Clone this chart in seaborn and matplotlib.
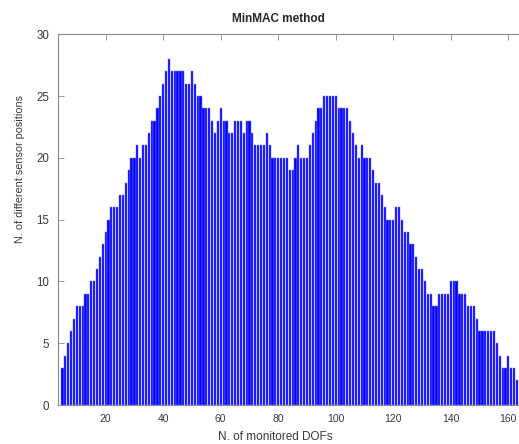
import numpy as np
import pandas as pd
import seaborn as sns
import matplotlib
matplotlib.use("Agg")
import matplotlib.pyplot as plt

# number of monitored DOFs (x) and count of different sensor positions (y)
dofs = list(range(5, 164))
counts = [3, 4, 5, 6, 7, 8, 8, 8, 9, 9,            # 5-14
          10, 10, 11, 12, 13, 14, 15, 16, 16, 16,  # 15-24
          17, 17, 18, 19, 20, 20, 21, 20, 21, 21,  # 25-34
          22, 23, 23, 24, 25, 26, 27, 28, 27, 27,  # 35-44
          27, 27, 27, 26, 26, 27, 26, 25, 25, 24,  # 45-54
          24, 24, 23, 22, 23, 24, 23, 23, 22, 22,  # 55-64
          23, 23, 23, 22, 23, 23, 22, 21, 21, 21,  # 65-74
          21, 22, 21, 20, 20, 20, 20, 20, 20, 19,  # 75-84
          19, 20, 21, 20, 20, 20, 21, 22, 23, 24,  # 85-94
          24, 25, 25, 25, 25, 25, 24, 24, 24, 24,  # 95-104
          23, 22, 21, 20, 21, 20, 20, 20, 19, 18,  # 105-114
          18, 17, 16, 15, 15, 15, 16, 16, 15, 14,  # 115-124
          14, 13, 13, 12, 11, 11, 10, 9, 9, 8,     # 125-134
          8, 9, 9, 9, 9, 10, 10, 10, 9, 9,         # 135-144
          9, 8, 8, 8, 7, 6, 6, 6, 6, 6,            # 145-154
          6, 5, 4, 3, 3, 4, 3, 3, 2]               # 155-163
xticks = [20, 40, 60, 80, 100, 120, 140, 160]
yticks = [0, 5, 10, 15, 20, 25, 30]

df = pd.DataFrame({"dofs": dofs, "count": counts})

sns.set_style("white")
plt.rcParams["font.family"] = ["Liberation Sans", "DejaVu Sans"]

fig = plt.figure(figsize=(5.19, 4.44), dpi=100)
ax = fig.add_axes([0.1127, 0.0878, 0.9, 0.835])

# thin light edges keep the gaps between bars visible, like the original
sns.barplot(data=df, x="dofs", y="count", native_scale=True, color="#0000ff",
            saturation=1, width=0.75, edgecolor="#7a7aff", linewidth=0.35, ax=ax)

ax.set_xlim(3.6, 166)
ax.set_ylim(0, 30)
ax.set_xticks(xticks)
ax.set_yticks(yticks)

for s in ax.spines.values():
    s.set_color("#8a8a8a")
    s.set_linewidth(0.8)
ax.tick_params(direction="in", length=4, width=0.6, color="#8a8a8a",
               labelsize=7.5, labelcolor="#3a3a3a", pad=6.5,
               top=True, right=True, bottom=True, left=True)
ax.tick_params(axis="y", labelsize=8.3)

ax.set_xlabel("N. of monitored DOFs", fontsize=8.5, color="#3a3a3a")
ax.set_ylabel("N. of different sensor positions", fontsize=7.8, color="#3a3a3a")
ax.xaxis.set_label_coords(0.464, -0.071)
ax.yaxis.set_label_coords(-0.072, 0.637)
ax.set_title("MinMAC method", fontsize=8.5, fontweight="bold", x=0.47, pad=9)

plt.savefig("out.png", dpi=100)
